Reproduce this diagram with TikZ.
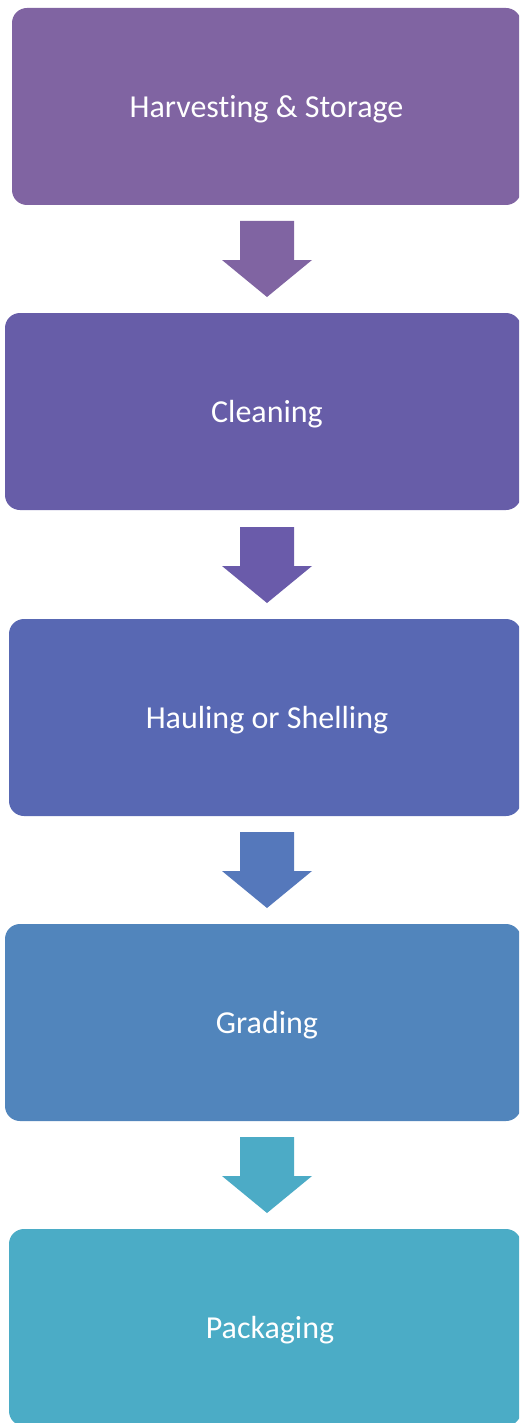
\documentclass[tikz,border=0pt]{standalone}
\usepackage{fontspec}
\setmainfont[Ligatures={NoCommon}]{Carlito}
\definecolor{c1}{HTML}{8064A2}
\definecolor{c2}{HTML}{675DA8}
\definecolor{c3}{HTML}{5868B3}
\definecolor{c4}{HTML}{5185BC}
\definecolor{c5}{HTML}{4BACC6}
\definecolor{a2}{HTML}{6A5BAA}
\definecolor{a3}{HTML}{5578BB}
\definecolor{a4}{HTML}{4CABC6}
\tikzset{
  stepbox/.style={rounded corners=15pt, draw=none},
  lbl/.style={text=white, font=\fontsize{32}{38}\selectfont, inner sep=0pt},
}
\newcommand{\downarrowshape}[3]{% color, top y, name
  \fill[#1] (240,#2) -- (294,#2) -- (294,#2+39) -- (312,#2+39) -- (267,#2+76) -- (222,#2+39) -- (240,#2+39) -- cycle;
  \coordinate (#3) at (267,#2+38);
}
\begin{document}
\begin{tikzpicture}[x=1pt,y=-1pt]
\useasboundingbox (0,0) rectangle (519,1423);
\clip (0,0) rectangle (519,1423);
\fill[white] (0,0) rectangle (519,1423);
\fill[c1, stepbox] (12,8) rectangle (521,205);
\node[lbl] (b1) at (266.5,109) {Harvesting \& Storage};
\fill[c2, stepbox] (5,313) rectangle (521,510);
\node[lbl] (b2) at (267,414) {Cleaning};
\fill[c3, stepbox] (9,619) rectangle (521,816);
\node[lbl] (b3) at (267,720) {Hauling or Shelling};
\fill[c4, stepbox] (5,924) rectangle (521,1121);
\node[lbl] (b4) at (267,1025) {Grading};
\fill[c5, stepbox] (9,1229) rectangle (521,1426);
\node[lbl] (b5) at (270,1330) {Packaging};
\downarrowshape{c1}{221}{ar1}
\downarrowshape{a2}{527}{ar2}
\downarrowshape{a3}{832}{ar3}
\downarrowshape{a4}{1137}{ar4}
\end{tikzpicture}
\end{document}
